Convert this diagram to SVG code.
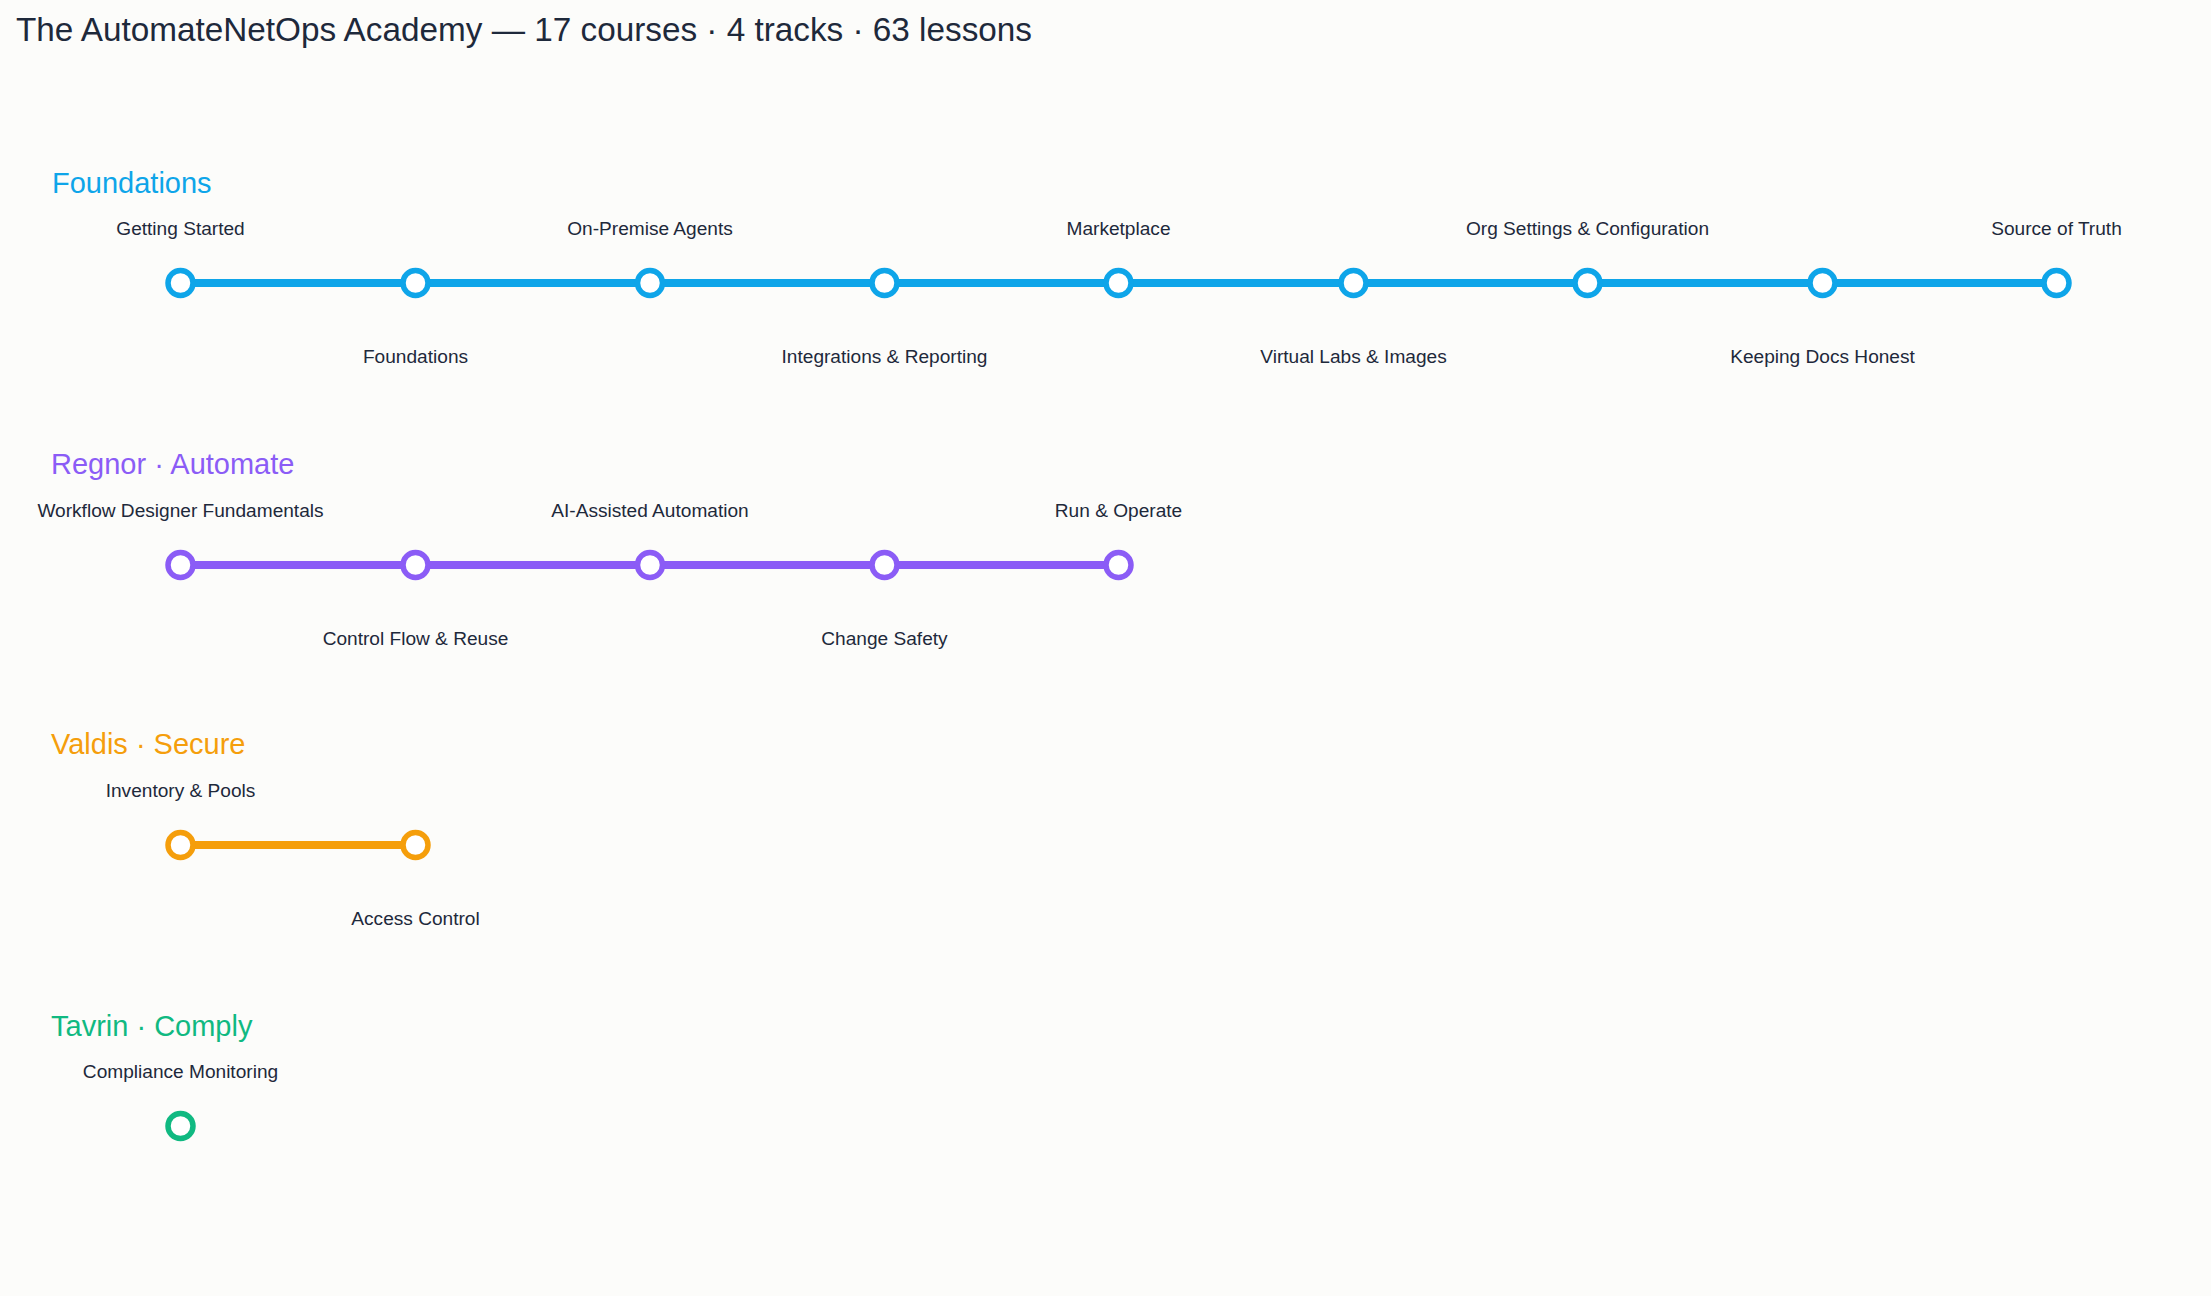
<svg xmlns="http://www.w3.org/2000/svg" width="2211" height="1296" viewBox="0 0 2211 1296">
<style>
text{font-family:"Liberation Sans",Arial,sans-serif}
.title{font-size:33.3px;fill:#1e293b}
.trk{font-size:29px}
.lbl{font-size:19.1px;fill:#1e293b;text-anchor:middle}
.st{fill:#ffffff;stroke-width:5.5}
.ln{stroke-width:8;fill:none;stroke-linecap:round}
.a .st{stroke:#0ea5e9}.a .trk{fill:#0ea5e9}
.b .st{stroke:#8b5cf6}.b .trk{fill:#8b5cf6}
.c .st{stroke:#f59e0b}.c .trk{fill:#f59e0b}
.d .st{stroke:#10b981}.d .trk{fill:#10b981}
</style>
<rect width="2211" height="1296" fill="#fcfcfa"/>
<text class="title" x="16" y="41">The AutomateNetOps Academy — 17 courses · 4 tracks · 63 lessons</text>
<g id="connectors" transform="translate(1.5,1)">
<line class="ln" x1="179" y1="282" x2="2055" y2="282" stroke="#0ea5e9"/>
<line class="ln" x1="179" y1="564" x2="1117" y2="564" stroke="#8b5cf6"/>
<line class="ln" x1="179" y1="844" x2="414" y2="844" stroke="#f59e0b"/>
</g>
<g transform="translate(1.5,1)">
<g id="track-foundations" class="a">
<text class="trk" x="50.5" y="192">Foundations</text>
<g id="f1"><circle class="st" cx="179" cy="282" r="12.5"/><text class="lbl" x="179" y="234">Getting Started</text></g>
<g id="f2"><circle class="st" cx="414" cy="282" r="12.5"/><text class="lbl" x="414" y="362">Foundations</text></g>
<g id="f3"><circle class="st" cx="648.5" cy="282" r="12.5"/><text class="lbl" x="648.5" y="234">On-Premise Agents</text></g>
<g id="f4"><circle class="st" cx="883" cy="282" r="12.5"/><text class="lbl" x="883" y="362">Integrations &amp; Reporting</text></g>
<g id="f5"><circle class="st" cx="1117" cy="282" r="12.5"/><text class="lbl" x="1117" y="234">Marketplace</text></g>
<g id="f6"><circle class="st" cx="1352" cy="282" r="12.5"/><text class="lbl" x="1352" y="362">Virtual Labs &amp; Images</text></g>
<g id="f7"><circle class="st" cx="1586" cy="282" r="12.5"/><text class="lbl" x="1586" y="234">Org Settings &amp; Configuration</text></g>
<g id="f8"><circle class="st" cx="1821" cy="282" r="12.5"/><text class="lbl" x="1821" y="362">Keeping Docs Honest</text></g>
<g id="f9"><circle class="st" cx="2055" cy="282" r="12.5"/><text class="lbl" x="2055" y="234">Source of Truth</text></g>
</g>
<g id="track-automate" class="b">
<text class="trk" x="49.5" y="473">Regnor · Automate</text>
<g id="r1"><circle class="st" cx="179" cy="564" r="12.5"/><text class="lbl" x="179" y="516">Workflow Designer Fundamentals</text></g>
<g id="r2"><circle class="st" cx="414" cy="564" r="12.5"/><text class="lbl" x="414" y="644">Control Flow &amp; Reuse</text></g>
<g id="r3"><circle class="st" cx="648.5" cy="564" r="12.5"/><text class="lbl" x="648.5" y="516">AI-Assisted Automation</text></g>
<g id="r4"><circle class="st" cx="883" cy="564" r="12.5"/><text class="lbl" x="883" y="644">Change Safety</text></g>
<g id="r5"><circle class="st" cx="1117" cy="564" r="12.5"/><text class="lbl" x="1117" y="516">Run &amp; Operate</text></g>
</g>
<g id="track-secure" class="c">
<text class="trk" x="49.5" y="753">Valdis · Secure</text>
<g id="v1"><circle class="st" cx="179" cy="844" r="12.5"/><text class="lbl" x="179" y="796">Inventory &amp; Pools</text></g>
<g id="v2"><circle class="st" cx="414" cy="844" r="12.5"/><text class="lbl" x="414" y="924">Access Control</text></g>
</g>
<g id="track-comply" class="d">
<text class="trk" x="49.5" y="1035">Tavrin · Comply</text>
<g id="t1"><circle class="st" cx="179" cy="1125" r="12.5"/><text class="lbl" x="179" y="1077">Compliance Monitoring</text></g>
</g>
</g>
</svg>
